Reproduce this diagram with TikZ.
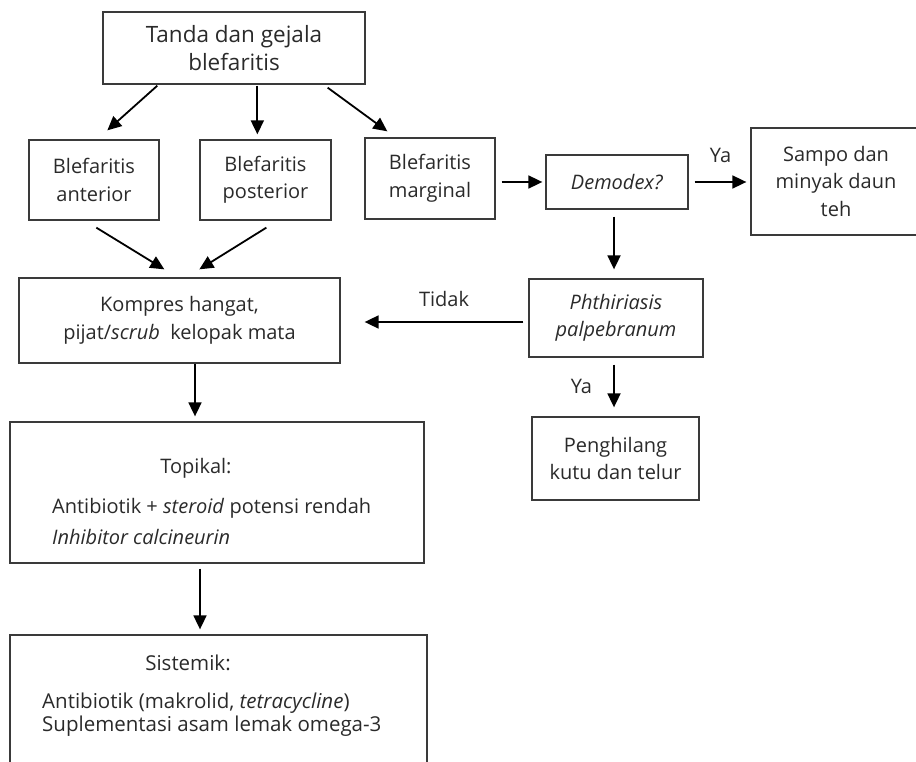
\documentclass[tikz,border=0pt]{standalone}
\usepackage{fontspec}
\setmainfont{Open Sans}
\usetikzlibrary{arrows.meta,positioning,calc}
\definecolor{boxgray}{HTML}{3A3A3A}
\definecolor{txtgray}{HTML}{2A2A2A}

\begin{document}
\begin{tikzpicture}[
  x=1pt,y=-1pt,
  box/.style={draw=boxgray,line width=1.3pt,align=center,inner sep=0pt,
    font=\fontsize{20}{27.5}\selectfont,text=txtgray},
  arr/.style={line width=1.8pt,-{Triangle[length=14pt,width=13pt]}},
  lab/.style={font=\fontsize{20}{27.5}\selectfont,text=txtgray,inner sep=0pt} % labels and inner lines
]
\useasboundingbox (0,0) rectangle (916,762);

% ---------------- first row ----------------
\node[box, minimum width=262pt, minimum height=72pt, font=\fontsize{22.5}{28}\selectfont] (sign) at (234,48) {Tanda dan gejala\\blefaritis};

\node[box, minimum width=130pt, minimum height=80pt] (ant) at (94,180) {Blefaritis\\anterior};
\node[box, minimum width=131pt, minimum height=80pt] (post) at (265.5,180) {Blefaritis\\posterior};
\node[box, minimum width=130pt, minimum height=81pt] (marg) at (430,178.5) {Blefaritis\\marginal};
\node[box, minimum width=142pt, minimum height=54pt] (demo) at (617,182) {\textit{Demodex?}};
\node[box, minimum width=170pt, minimum height=107pt] (sampo) at (836,181.5) {Sampo dan\\minyak daun\\teh};

\draw[arr] ([xshift=55pt,yshift=-1pt]sign.south west) -- ([xshift=79pt,yshift=9pt]ant.north west);
\draw[arr] ([xshift=155pt,yshift=-1pt]sign.south west) -- ([xshift=58pt,yshift=5pt]post.north west);
\draw[arr] ([xshift=-38pt,yshift=-3pt]sign.south east) -- ([xshift=23pt,yshift=6pt]marg.north west);

\draw[arr] ($(marg.east |- demo.west)+(6,0)$) -- ($(demo.west)+(-3,0)$);
\draw[arr] ($(demo.east)+(6,0)$) -- node[lab, above=18pt] (ya1) {Ya} ($(demo.east -| sampo.west)+(-4,0)$);

% ---------------- second row ----------------
\node[box, minimum width=321pt, minimum height=85pt] (komp) at (179.5,320.5) {Kompres hangat,\\pijat/\textit{scrub}\ \ kelopak mata};
\node[box, minimum width=174pt, minimum height=78pt] (phth) at (616,318) {\textit{Phthiriasis}\\\textit{palpebranum}};
\node[box, minimum width=167pt, minimum height=83pt] (kutu) at (615.5,458.5) {Penghilang\\kutu dan telur};

\draw[arr] ([xshift=68pt,yshift=-7pt]ant.south west) -- ([xshift=146pt,yshift=8pt]komp.north west);
\draw[arr] ([xshift=67pt,yshift=-7pt]post.south west) -- ([xshift=181pt,yshift=8pt]komp.north west);
\draw[arr] ($(demo.south)+(-3,7)$) -- ($(phth.north)+(-2,-9)$);
\draw[arr] ($(phth.west)+(-5,4)$) -- node[lab, above=14pt] (tidak) {Tidak} ($(komp.east)+(24,1.5)$);
\draw[arr] ($(phth.south)+(-2,7)$) -- node[lab, left=21pt] (ya2) {Ya} ($(kutu.north)+(-1.5,-9)$);

% ---------------- therapy ----------------
\node[box, minimum width=414pt, minimum height=141pt] (topi) at (217,492.5) {};
\node[lab] (topiH) at (196,468) {Topikal:};
\node[lab, anchor=west] (topiA) at (52,508) {Antibiotik + \textit{steroid} potensi rendah};
\node[lab, anchor=west] (topiB) at (52,537) {\textit{Inhibitor calcineurin}};

\node[box, minimum width=417pt, minimum height=160pt] (sist) at (218.5,715) {};
\node[lab, font=\fontsize{20.5}{26}\selectfont] (sistH) at (188,663) {Sistemik:};
\node[lab, anchor=west, font=\fontsize{20.5}{26}\selectfont] (sistA) at (42,703) {Antibiotik (makrolid, \textit{tetracycline})};
\node[lab, anchor=west, font=\fontsize{20.5}{26}\selectfont] (sistB) at (42,726) {Suplementasi asam lemak omega-3};

\draw[arr] ($(komp.south)+(15.5,0)$) -- ($(topi.north)+(-22,-5)$);
\draw[arr] ($(topi.south)+(-17,5)$) -- ($(sist.north)+(-18.5,-5)$);

\end{tikzpicture}
\end{document}
